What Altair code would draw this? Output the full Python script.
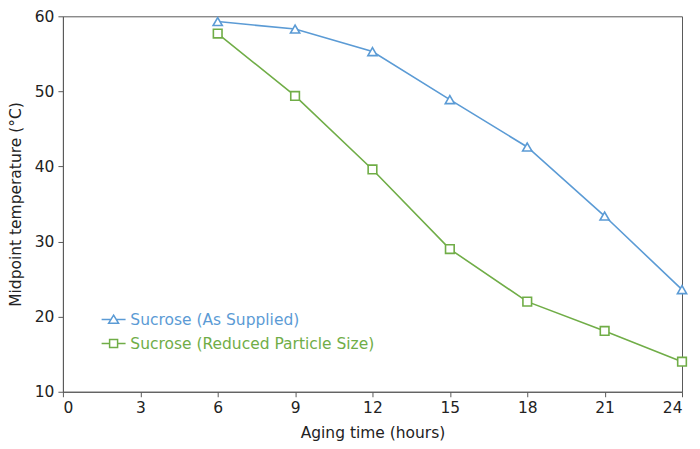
import altair as alt
import pandas as pd

# 데이터
hours = [6, 9, 12, 15, 18, 21, 24]
as_supplied = [59.3, 58.3, 55.3, 48.9, 42.6, 33.4, 23.6]
reduced_size = [57.7, 49.4, 39.6, 29.0, 22.0, 18.1, 14.0]

series_names = ['Sucrose (As Supplied)', 'Sucrose (Reduced Particle Size)']
series_colors = ['#5B9BD5', '#70AD47']
x_ticks = [0, 3, 6, 9, 12, 15, 18, 21, 24]
y_ticks = [10, 20, 30, 40, 50, 60]

df = pd.concat([
    pd.DataFrame({'hours': hours, 'temp': as_supplied, 'series': series_names[0]}),
    pd.DataFrame({'hours': hours, 'temp': reduced_size, 'series': series_names[1]}),
])

FONT = 'DejaVu Sans'
FS = 15.5
AXIS_COLOR = '#595959'
W, H = 620, 376

# 범례 기호: 선 + 마커
tri_path = 'M-2.4,0H-0.55M0.55,0H2.4M0,-0.9L1,0.75H-1Z'
sq_path = 'M-2.4,0H-0.8M0.8,0H2.4M-0.8,-0.8H0.8V0.8H-0.8Z'

label_color = alt.ExprRef(
    f"datum.value === '{series_names[0]}' ? '{series_colors[0]}' : '{series_colors[1]}'")

legend = alt.Legend(
    title=None, orient='none', legendX=43, legendY=296, padding=0,
    symbolSize=100, symbolStrokeWidth=1.5, symbolOpacity=1,
    labelFont=FONT, labelFontSize=FS, labelOffset=9, rowPadding=7, labelLimit=0,
    labelColor=label_color,
)

color = alt.Color('series:N', scale=alt.Scale(domain=series_names, range=series_colors), legend=legend)

base = alt.Chart(df).encode(
    x=alt.X('hours:Q', title='Aging time (hours)',
            scale=alt.Scale(domain=[0, 24], nice=False),
            axis=alt.Axis(values=x_ticks, titleX=W / 2, titleY=41, titleBaseline='middle',
                          labelPadding=4)),
    y=alt.Y('temp:Q', title='Midpoint temperature (°C)',
            scale=alt.Scale(domain=[10, 60], nice=False),
            axis=alt.Axis(values=y_ticks, titleX=-47, titleY=H / 2, titleBaseline='middle',
                          labelPadding=4)),
    color=color,
)

lines = base.mark_line(strokeWidth=1.6)

pts_tri = base.transform_filter(alt.datum.series == series_names[0]).mark_point(
    shape='triangle-up', filled=False, fill='white', size=85, strokeWidth=1.6, opacity=1)
pts_sq = base.transform_filter(alt.datum.series == series_names[1]).mark_point(
    shape='square', filled=False, fill='white', size=75, strokeWidth=1.6, opacity=1)

legend_layer = base.mark_point(filled=False, opacity=0).encode(
    shape=alt.Shape('series:N', scale=alt.Scale(domain=series_names, range=[tri_path, sq_path]),
                    legend=legend)
)

chart = alt.layer(legend_layer, lines, pts_tri, pts_sq).properties(
    width=W, height=H,
    autosize=alt.AutoSizeParams(type='none'),
    padding={'left': 55, 'top': 8, 'right': 10, 'bottom': 50},
).configure_view(
    stroke=AXIS_COLOR, strokeWidth=1
).configure_axis(
    grid=False, domainColor=AXIS_COLOR, tickColor=AXIS_COLOR, tickSize=5,
    labelFont=FONT, labelFontSize=FS, labelColor='#222222',
    titleFont=FONT, titleFontSize=FS, titleFontWeight='normal', titleColor='#222222',
)

chart.save('out.html', embed_options={'renderer': 'svg', 'actions': False})
